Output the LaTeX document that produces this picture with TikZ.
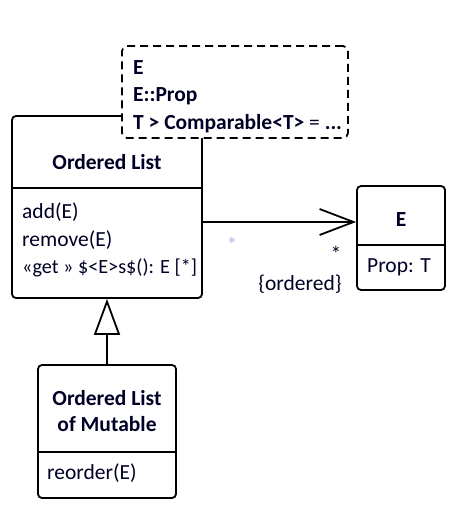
\documentclass[tikz,border=0pt]{standalone}
\usepackage{fontspec}
\setmainfont{Carlito}
\usetikzlibrary{arrows.meta}
\begin{document}
\begin{tikzpicture}[x=1pt,y=-1pt,
  box/.style={draw, line width=1.8pt, rounded corners=4pt, fill=white, inner sep=0pt},
  tbox/.style={draw, line width=1.8pt, rounded corners=5pt, fill=white, inner sep=0pt, dash pattern=on 8pt off 5pt},
  txt/.style={font=\fontsize{21.5}{26}\selectfont, inner sep=0pt, text=black!85!blue},
  btxt/.style={font=\fontsize{21.5}{26}\selectfont\bfseries, inner sep=0pt, text=black!85!blue},
  conn/.style={line width=1.8pt}]
\useasboundingbox (0,0) rectangle (453,520);
% Ordered List
\node[box, minimum width=190pt, minimum height=182pt] (ol) at (107,207) {};
\draw[conn] (ol.west |- 0,188) -- (ol.east |- 0,188);
\node[btxt] (oltitle) at (107,162) {Ordered List};
\node[txt, anchor=west] (op1) at (22,212) {add(E)};
\node[txt, anchor=west] (op2) at (22,240) {remove(E)};
\node[txt, anchor=west, font=\fontsize{20.2}{26}\selectfont] (op3) at (22,268) {«get » \$<E>s\$(): E [*]};
% template box
\node[tbox, minimum width=226pt, minimum height=92pt] (tp) at (235,92) {};
\node[btxt, anchor=west] (t1) at (133,68) {E};
\node[btxt, anchor=west] (t2) at (133,96) {E::Prop};
\node[btxt, anchor=west] (t3) at (133,124) {T > Comparable<T> \textmd{=} ...};
% E box
\node[box, minimum width=88pt, minimum height=104pt] (e) at (401,238) {};
\draw[conn] (e.west |- 0,245) -- (e.east |- 0,245);
\node[btxt] (etitle) at (401,220) {E};
\node[txt] (eprop) at (399,267) {Prop: T};
% Mutable
\node[box, minimum width=138pt, minimum height=133pt] (mu) at (107,431.5) {};
\draw[conn] (mu.west |- 0,452) -- (mu.east |- 0,452);
\node[btxt, align=center] (mutitle) at (107,411) {Ordered List\\of Mutable};
\node[txt, anchor=west] (muop) at (47,473) {reorder(E)};
% association
\draw[conn, -{Straight Barb[length=34pt, width=26pt, line width=1.8pt]}] (ol.east |- 0,222) -- (e.west |- 0,222);
\node[txt, text=gray!60!blue!40] (s1) at (232,245) {*};
\node[txt] (s2) at (336,254) {*};
\node[txt] (ord) at (300,284) {\{ordered\}};
% generalization
\draw[conn, -{Triangle[open, length=36pt, width=26pt, line width=1.8pt, fill=white]}] (mu.north) -- (mu.north |- ol.south);
\end{tikzpicture}
\end{document}
